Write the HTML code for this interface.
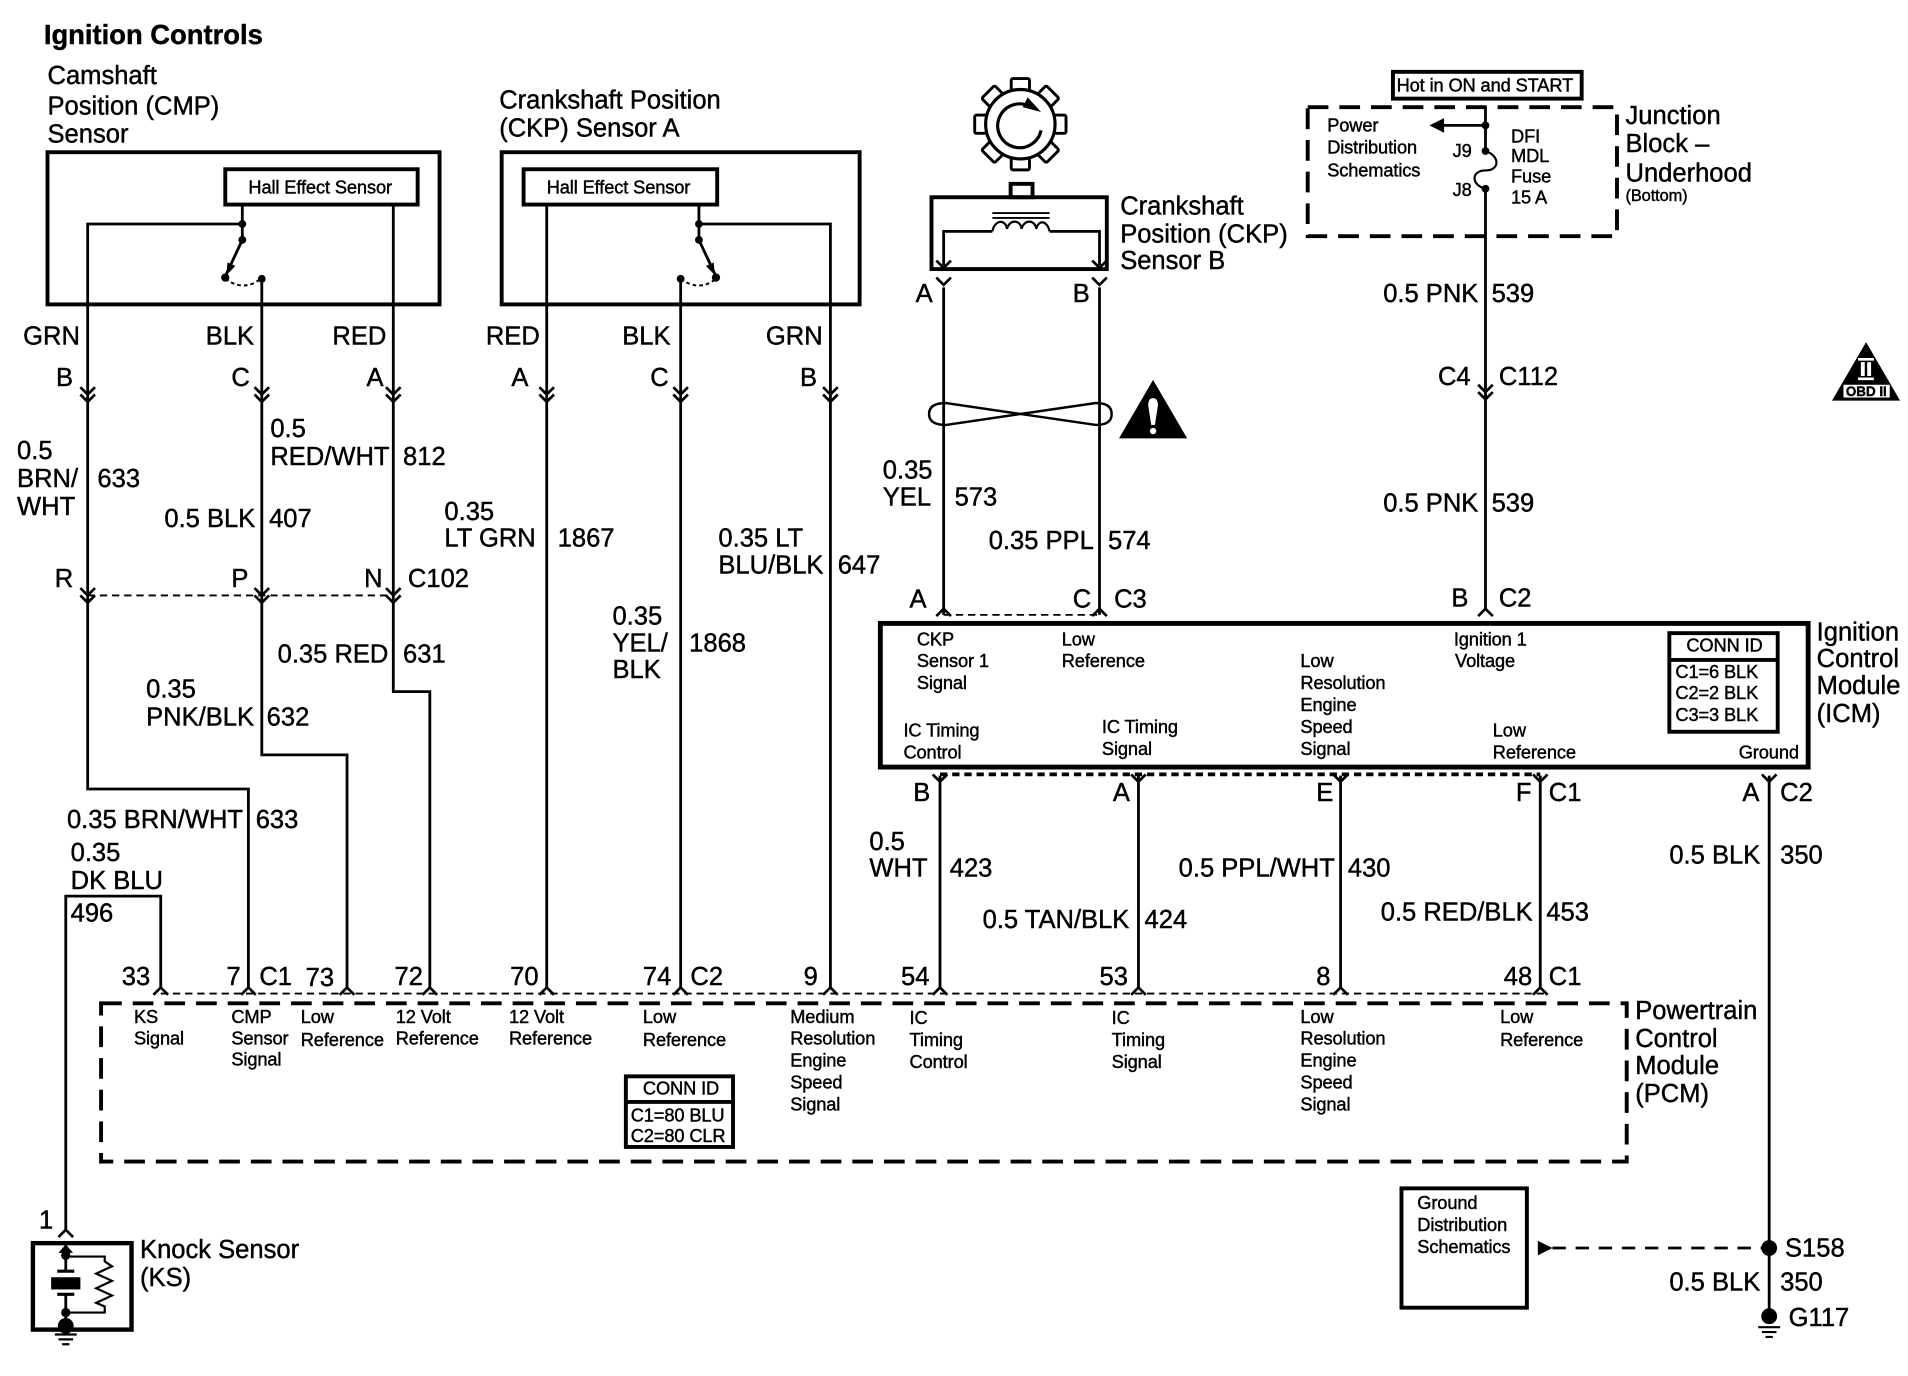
<!DOCTYPE html>
<html><head><meta charset="utf-8"><title>Ignition Controls</title>
<style>
html,body{margin:0;padding:0;background:#fff}
svg{display:block}
text{font-family:"Liberation Sans",Arial,sans-serif;fill:#000;stroke:#000;stroke-width:.35}
.b text,text.b{font-size:21px}
.s text{font-size:15px;letter-spacing:-.1px}
.w{fill:none;stroke:#000;stroke-width:2.3}
.h{fill:none;stroke:#000;stroke-width:3.2}
</style></head><body>
<svg xmlns="http://www.w3.org/2000/svg" width="1908" height="1376" viewBox="0 0 1567 1130.1">
<defs>
<g id="dd"><path d="M-6,-6L0,0L6,-6M-6,0L0,6L6,0" fill="none" stroke="#000" stroke-width="2.2"/></g>
<g id="up"><path d="M-6,6L0,0L6,6" fill="none" stroke="#000" stroke-width="2.2"/></g>
<g id="yy"><path d="M-6,-6L0,0L6,-6" fill="none" stroke="#000" stroke-width="2.2"/></g>
<g id="gnd"><path d="M-9,0H9M-6,4H6M-3,8H3" fill="none" stroke="#000" stroke-width="1.8"/></g>
<g id="tooth"><rect x="-7.5" y="-37.5" width="15" height="11" rx="1.5" fill="#fff" stroke="#000" stroke-width="2.4"/></g>
</defs>

<!-- boxes -->
<g class="h">
<rect x="39" y="125" width="322" height="125"/>
<rect x="185" y="139" width="158" height="29"/>
<rect x="412" y="125" width="294" height="125"/>
<rect x="430" y="139" width="159" height="29"/>
<rect x="765" y="162" width="144" height="59"/>
<rect x="830" y="151" width="18" height="11"/>
<rect x="723" y="512" width="762" height="118" stroke-width="4"/>
<rect x="1371" y="520" width="89" height="81"/>
<path d="M1371,542H1460"/>
<rect x="514" y="884" width="88" height="58"/>
<path d="M514,905H602"/>
<rect x="1151" y="976" width="103" height="98"/>
<rect x="1144" y="59" width="155" height="22"/>
<rect x="27" y="1021" width="81" height="71" stroke-width="3.6"/>
<rect x="83" y="824" width="1253" height="130" stroke-dasharray="17 9"/>
<rect x="1074" y="88" width="254" height="106" stroke-dasharray="17 9"/>
</g>

<!-- wires -->
<g class="w">
<path d="M199,168V197M199,184H72V648H204V812"/>
<path d="M199,197L185,227"/>
<path d="M215,229V620H285V812"/>
<path d="M323,168V568H353V812"/>
<path d="M449,168V812"/>
<path d="M574,168V197M574,184H682V812"/>
<path d="M574,197L588,227"/>
<path d="M559,229V812"/>
<path d="M775,236V505M903,236V505"/>
<path d="M775,218V190H815M862,190H903V218"/>
<path d="M815,190C817,180 826,180 827,188C829,180 838,180 839,188C841,180 850,180 851,188C853,180 860,181 862,190" stroke-width="1.8"/>
<path d="M815,175H862M815,179H862" stroke-width="1.6"/>
<path d="M777,331L838,340L900,331Q913,331 913,340Q913,349 900,349L838,340L777,349Q763,349 763,340Q763,331 777,331Z" stroke-width="2"/>
<path d="M1220,88V124M1220,155V500"/>
<path d="M1220,103H1185"/>
<path d="M1220,124C1232,128 1232,140 1220,140C1208,140 1208,152 1220,155" stroke-width="1.8"/>
<path d="M772,637V812M935,637V812M1101,637V812M1265,637V812M1453,637V1081"/>
<path d="M54,1010V736H132V812"/>
<path d="M54,1022V1044M54,1063V1089"/>
<path d="M47,1044H61M47,1063H61" stroke-width="2.6"/>
<path d="M54,1032H86V1036L92,1040L79,1046L92,1052L79,1058L92,1064L79,1070L86,1073V1078H54" stroke-width="1.8"/>
<path d="M72,489H323" stroke-width="1.5" stroke-dasharray="6 4"/>
<path d="M775,505H903" stroke-width="1.5" stroke-dasharray="6 4"/>
<path d="M132,816H1270" stroke-width="1.5" stroke-dasharray="6 4"/>
<path d="M772,636H1265" stroke-width="3" stroke-dasharray="6 4"/>
<path d="M185,229Q200,240 214,229" stroke-width="1.6" stroke-dasharray="3 2.5"/>
<path d="M559,229Q574,240 588,229" stroke-width="1.6" stroke-dasharray="3 2.5"/>
<path d="M1275,1025H1453" stroke-dasharray="11 8"/>
</g>

<!-- connectors -->
<use href="#dd" x="72" y="324"/><use href="#dd" x="215" y="324"/><use href="#dd" x="323" y="324"/>
<use href="#dd" x="449" y="324"/><use href="#dd" x="559" y="324"/><use href="#dd" x="682" y="324"/>
<use href="#dd" x="1220" y="322"/>
<use href="#dd" x="72" y="489"/><use href="#dd" x="215" y="489"/><use href="#dd" x="323" y="489"/>
<g>
<use href="#up" x="775" y="500"/><use href="#up" x="903" y="500"/><use href="#up" x="1220" y="500"/>
<use href="#up" x="132" y="811"/><use href="#up" x="204" y="811"/><use href="#up" x="285" y="811"/><use href="#up" x="353" y="811"/><use href="#up" x="449" y="811"/><use href="#up" x="559" y="811"/><use href="#up" x="682" y="811"/><use href="#up" x="772" y="811"/><use href="#up" x="935" y="811"/><use href="#up" x="1101" y="811"/><use href="#up" x="1265" y="811"/>
<use href="#up" x="54" y="1010"/>
<use href="#yy" x="775" y="234"/><use href="#yy" x="903" y="234"/>
<use href="#yy" x="772" y="642"/><use href="#yy" x="935" y="642"/><use href="#yy" x="1101" y="642"/><use href="#yy" x="1265" y="642"/><use href="#yy" x="1453" y="642"/>
<use href="#yy" x="775" y="220"/><use href="#yy" x="903" y="220"/>
</g>

<!-- dots and switches -->
<g fill="#000">
<circle cx="199" cy="184" r="3.2"/><circle cx="199" cy="197" r="3.2"/><circle cx="185" cy="228" r="3.4"/><circle cx="215" cy="229" r="3.2"/>
<path d="M186,226L186.8,215.6L193.3,218.4Z"/>
<circle cx="574" cy="184" r="3.2"/><circle cx="574" cy="197" r="3.2"/><circle cx="588" cy="228" r="3.4"/><circle cx="559" cy="229" r="3.2"/>
<path d="M587,226L586.2,215.6L579.8,218.4Z"/>
<circle cx="1220" cy="103" r="3.2"/><circle cx="1220" cy="124" r="3.2"/><circle cx="1220" cy="155" r="3.2"/>
<path d="M1174,103L1186,97V109Z"/>
<circle cx="1453" cy="1025" r="6.5"/><circle cx="1453" cy="1081" r="6.5"/>
<path d="M1263,1019L1275,1025L1263,1031Z"/>
<circle cx="54" cy="1031" r="3.8"/><circle cx="54" cy="1078" r="3.8"/><circle cx="54" cy="1089" r="6.5"/>
<rect x="42" y="1049" width="24" height="10"/>
<path d="M54,1022L48,1029H60Z"/>
</g>
<use href="#gnd" x="54" y="1096"/>
<use href="#gnd" x="1453" y="1090"/>

<!-- gear -->
<g transform="translate(838,102)">
<use href="#tooth" transform="rotate(0)"/><use href="#tooth" transform="rotate(45)"/><use href="#tooth" transform="rotate(90)"/><use href="#tooth" transform="rotate(135)"/><use href="#tooth" transform="rotate(180)"/><use href="#tooth" transform="rotate(225)"/><use href="#tooth" transform="rotate(270)"/><use href="#tooth" transform="rotate(315)"/>
<circle r="28.5" fill="#fff" stroke="#000" stroke-width="2.6"/>
<path d="M17,5 A18,18 0 1 1 7,-15" fill="none" stroke="#000" stroke-width="2.6"/>
<path d="M17,-10L6,-22L2,-14Z" fill="#000"/>
</g>

<!-- warning -->
<path d="M947,312L975,360H919Z" fill="#000"/>
<path d="M943,333Q943,327 947,327Q951,327 951,333L948.5,349H945.5Z" fill="#fff"/>
<circle cx="947" cy="354" r="2.6" fill="#fff"/>

<!-- OBD II -->
<path d="M1532.6,281L1560.5,329H1504.6Z" fill="#000"/>
<path d="M1526,294H1539V296.2H1526ZM1526,310H1539V312.2H1526ZM1528.3,297.4H1531.5V308.8H1528.3ZM1533.5,297.4H1536.7V308.8H1533.5Z" fill="#fff"/>
<rect x="1514" y="316" width="38" height="10.5" fill="#fff"/>
<text x="1516" y="325.2" style="font-size:11px;font-weight:bold">OBD II</text>

<text x="36" y="36" style="font-size:22.5px;font-weight:bold">Ignition Controls</text>

<g class="b">
<text x="39" y="69">Camshaft</text><text x="39" y="94">Position (CMP)</text><text x="39" y="117">Sensor</text>
<text x="410" y="89">Crankshaft Position</text><text x="410" y="112">(CKP) Sensor A</text>
<text x="920" y="176">Crankshaft</text><text x="920" y="199">Position (CKP)</text><text x="920" y="221">Sensor B</text>
<text x="1335" y="102">Junction</text><text x="1335" y="125">Block –</text><text x="1335" y="149">Underhood</text>
<text x="19" y="283">GRN</text><text x="169" y="283">BLK</text><text x="273" y="283">RED</text><text x="399" y="283">RED</text><text x="511" y="283">BLK</text><text x="629" y="283">GRN</text>
<text x="46" y="317">B</text><text x="190" y="317">C</text><text x="301" y="317">A</text><text x="420" y="317">A</text><text x="534" y="317">C</text><text x="657" y="317">B</text>
<text x="752" y="248">A</text><text x="881" y="248">B</text>
<text x="14" y="377">0.5</text><text x="14" y="400">BRN/</text><text x="14" y="423">WHT</text><text x="80" y="400">633</text>
<text x="222" y="359">0.5</text><text x="222" y="382">RED/WHT</text><text x="331" y="382">812</text>
<text x="135" y="433">0.5 BLK</text><text x="221" y="433">407</text>
<text x="365" y="427">0.35</text><text x="365" y="449">LT GRN</text><text x="458" y="449">1867</text>
<text x="590" y="449">0.35 LT</text><text x="590" y="471">BLU/BLK</text><text x="688" y="471">647</text>
<text x="725" y="393">0.35</text><text x="725" y="415">YEL</text><text x="784" y="415">573</text>
<text x="812" y="451">0.35 PPL</text><text x="910" y="451">574</text>
<text x="503" y="513">0.35</text><text x="503" y="535">YEL/</text><text x="503" y="557">BLK</text><text x="566" y="535">1868</text>
<text x="45" y="482">R</text><text x="190" y="482">P</text><text x="299" y="482">N</text><text x="335" y="482">C102</text>
<text x="228" y="544">0.35 RED</text><text x="331" y="544">631</text>
<text x="120" y="573">0.35</text><text x="120" y="596">PNK/BLK</text><text x="219" y="596">632</text>
<text x="55" y="680">0.35 BRN/WHT</text><text x="210" y="680">633</text>
<text x="58" y="707">0.35</text><text x="58" y="730">DK BLU</text><text x="58" y="757">496</text>
<text x="100" y="809">33</text><text x="186" y="809">7</text><text x="213" y="809">C1</text><text x="251" y="810">73</text><text x="324" y="809">72</text><text x="419" y="809">70</text><text x="528" y="809">74</text><text x="567" y="809">C2</text><text x="660" y="809">9</text><text x="740" y="809">54</text><text x="903" y="809">53</text><text x="1081" y="809">8</text><text x="1235" y="809">48</text><text x="1272" y="809">C1</text>
<text x="1343" y="837">Powertrain</text><text x="1343" y="860">Control</text><text x="1343" y="882">Module</text><text x="1343" y="905">(PCM)</text>
<text x="1492" y="526">Ignition</text><text x="1492" y="548">Control</text><text x="1492" y="570">Module</text><text x="1492" y="593">(ICM)</text>
<text x="747" y="499">A</text><text x="881" y="499">C</text><text x="915" y="499">C3</text><text x="1192" y="498">B</text><text x="1231" y="498">C2</text>
<text x="1181" y="316">C4</text><text x="1231" y="316">C112</text>
<text x="1136" y="248">0.5 PNK</text><text x="1225" y="248">539</text><text x="1136" y="420">0.5 PNK</text><text x="1225" y="420">539</text>
<text x="750" y="658">B</text><text x="914" y="658">A</text><text x="1081" y="658">E</text><text x="1245" y="658">F</text><text x="1272" y="658">C1</text><text x="1431" y="658">A</text><text x="1462" y="658">C2</text>
<text x="714" y="698">0.5</text><text x="714" y="720">WHT</text><text x="780" y="720">423</text>
<text x="807" y="762">0.5 TAN/BLK</text><text x="940" y="762">424</text>
<text x="968" y="720">0.5 PPL/WHT</text><text x="1107" y="720">430</text>
<text x="1134" y="756">0.5 RED/BLK</text><text x="1270" y="756">453</text>
<text x="1371" y="709">0.5 BLK</text><text x="1462" y="709">350</text>
<text x="1466" y="1032">S158</text><text x="1371" y="1060">0.5 BLK</text><text x="1462" y="1060">350</text><text x="1469" y="1089">G117</text>
<text x="115" y="1033">Knock Sensor</text><text x="115" y="1056">(KS)</text><text x="32" y="1009">1</text>
</g>

<g class="s">
<text x="204" y="159">Hall Effect Sensor</text><text x="449" y="159">Hall Effect Sensor</text>
<text x="1147" y="75">Hot in ON and START</text>
<text x="1090" y="108">Power</text><text x="1090" y="126">Distribution</text><text x="1090" y="145">Schematics</text>
<text x="1193" y="129">J9</text><text x="1193" y="161">J8</text>
<text x="1241" y="117">DFI</text><text x="1241" y="133">MDL</text><text x="1241" y="150">Fuse</text><text x="1241" y="167">15 A</text>
<text x="1335" y="165" style="font-size:13.5px">(Bottom)</text>
<text x="110" y="840">KS</text><text x="110" y="858">Signal</text>
<text x="190" y="840">CMP</text><text x="190" y="858">Sensor</text><text x="190" y="875">Signal</text>
<text x="247" y="840">Low</text><text x="247" y="859">Reference</text>
<text x="325" y="840">12 Volt</text><text x="325" y="858">Reference</text>
<text x="418" y="840">12 Volt</text><text x="418" y="858">Reference</text>
<text x="528" y="840">Low</text><text x="528" y="859">Reference</text>
<text x="649" y="840">Medium</text><text x="649" y="858">Resolution</text><text x="649" y="876">Engine</text><text x="649" y="894">Speed</text><text x="649" y="912">Signal</text>
<text x="747" y="841">IC</text><text x="747" y="859">Timing</text><text x="747" y="877">Control</text>
<text x="913" y="841">IC</text><text x="913" y="859">Timing</text><text x="913" y="877">Signal</text>
<text x="1068" y="840">Low</text><text x="1068" y="858">Resolution</text><text x="1068" y="876">Engine</text><text x="1068" y="894">Speed</text><text x="1068" y="912">Signal</text>
<text x="1232" y="840">Low</text><text x="1232" y="859">Reference</text>
<text x="528" y="899">CONN ID</text><text x="518" y="921">C1=80 BLU</text><text x="518" y="938">C2=80 CLR</text>
<text x="753" y="530">CKP</text><text x="753" y="548">Sensor 1</text><text x="753" y="566">Signal</text>
<text x="872" y="530">Low</text><text x="872" y="548">Reference</text>
<text x="1194" y="530">Ignition 1</text><text x="1195" y="548">Voltage</text>
<text x="1068" y="548">Low</text><text x="1068" y="566">Resolution</text><text x="1068" y="584">Engine</text><text x="1068" y="602">Speed</text><text x="1068" y="620">Signal</text>
<text x="742" y="605">IC Timing</text><text x="742" y="623">Control</text>
<text x="905" y="602">IC Timing</text><text x="905" y="620">Signal</text>
<text x="1226" y="605">Low</text><text x="1226" y="623">Reference</text>
<text x="1428" y="623">Ground</text>
<text x="1385" y="535">CONN ID</text><text x="1376" y="557">C1=6 BLK</text><text x="1376" y="574">C2=2 BLK</text><text x="1376" y="592">C3=3 BLK</text>
<text x="1164" y="993">Ground</text><text x="1164" y="1011">Distribution</text><text x="1164" y="1029">Schematics</text>
</g>
</svg>
</body></html>
